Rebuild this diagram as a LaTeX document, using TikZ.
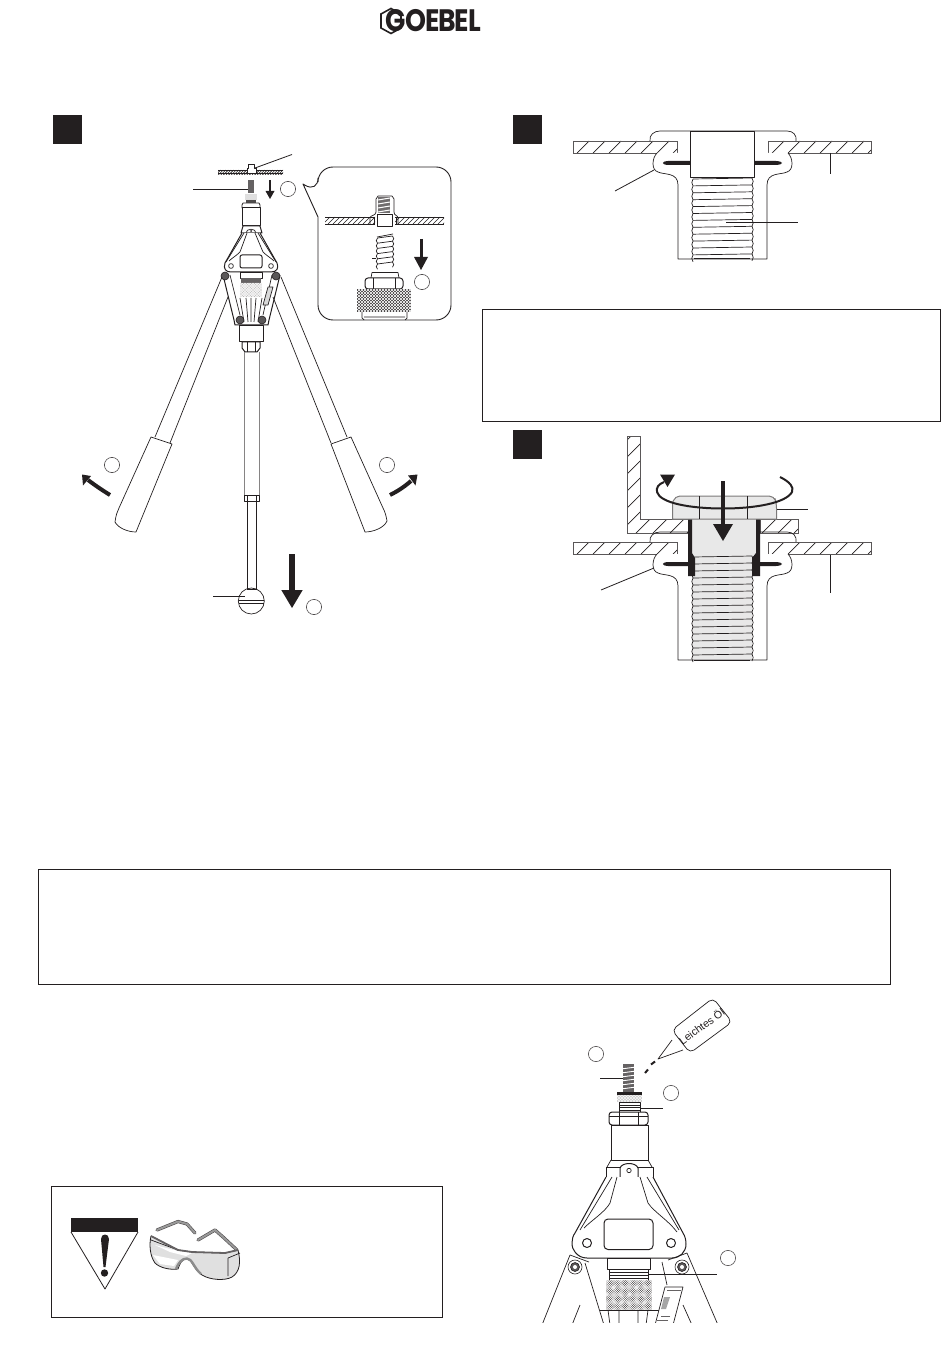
\documentclass[tikz,border=0pt]{standalone}
\usepackage{fontspec}
\setmainfont{Liberation Sans}
\newfontfamily\logofont{Poppins}
\definecolor{ink}{HTML}{231F20}
\colorlet{paleg}{black!9}
\newcommand{\slashes}[6][]{%
  \pgfmathsetmacro\hh{#5-#3}%
  \pgfmathtruncatemacro\nn{(#4-#2+\hh)/#6+1}%
  \foreach \k in {0,...,\nn}{%
    \pgfmathsetmacro\xa{#2-\hh+\k*#6}%
    \pgfmathsetmacro\xb{\xa+\hh}%
    \draw[#1] (\xa,#5) -- (\xb,#3);
  }}
\newcommand{\backslashes}[6][]{%
  \pgfmathsetmacro\hh{#5-#3}%
  \pgfmathtruncatemacro\nn{(#4-#2+\hh)/#6+1}%
  \foreach \k in {0,...,\nn}{%
    \pgfmathsetmacro\xa{#2-\hh+\k*#6}%
    \pgfmathsetmacro\xb{\xa+\hh}%
    \draw[#1] (\xa,#3) -- (\xb,#5);
  }}
\newcommand{\hatchrect}[5]{%
  \begin{scope}\clip (#1,#2) rectangle (#3,#4);
    \slashes[hatch]{#1}{#2}{#3}{#4}{#5}
  \end{scope}
  \draw[barline] (#1,#2) rectangle (#3,#4);}
\newcommand{\knurl}[5]{%
  \fill[ink!90] (#1,#2) rectangle (#3,#4);
  \begin{scope}\clip (#1,#2) rectangle (#3,#4);
    \slashes[white,line width=.3pt]{#1}{#2}{#3}{#4}{#5}
    \backslashes[white,line width=.3pt]{#1}{#2}{#3}{#4}{#5}
  \end{scope}}
% xl xr ytop n pitch slope
\newcommand{\threads}[6]{%
  \foreach \i in {0,...,#4}{%
    \pgfmathsetmacro\ya{#3+\i*#5}%
    \pgfmathsetmacro\yb{\ya+#5}%
    \pgfmathsetmacro\yc{\ya+0.3*#5}%
    \pgfmathsetmacro\yd{\ya+0.7*#5}%
    \pgfmathsetmacro\ye{\ya-#6}%
    \pgfmathsetmacro\yf{\yb-#6}%
    \pgfmathsetmacro\yg{\yc-#6}%
    \pgfmathsetmacro\yh{\yd-#6}%
    \draw[thinl] (#1,\ya) -- (#2,\ye);
    \draw[thinl] (#1,\ya) .. controls ({#1-1.6},\yc) and ({#1-1.6},\yd) .. (#1,\yb);
    \draw[thinl] (#2,\ye) .. controls ({#2+1.6},\yg) and ({#2+1.6},\yh) .. (#2,\yf);
  }}
% rivet body, shifted down by #1
\newcommand{\rivetbody}[1]{%
\begin{scope}[yshift=#1*-0.5pt]
  \draw[thinl] (650,141) .. controls (649,135) and (654,131) .. (660,131) -- (787,131)
     .. controls (793,131) and (797,135) .. (796,141);
  \draw[thinl,fill=white] (657,153) .. controls (652,158) and (651,170) .. (658,172)
     .. controls (664,175) and (678,172) .. (678,185) -- (678,259) -- (767,259) -- (767,185)
     .. controls (767,172) and (781,175) .. (787,172) .. controls (794,170) and (793,158) .. (788,153);
  \fill[ink] (690,161) -- (668,161) .. controls (661,161.5) and (661,164.5) .. (668,165) -- (690,165) -- cycle;
  \fill[ink] (754,161) -- (776,161) .. controls (784,161.5) and (784,164.5) .. (776,165) -- (754,165) -- cycle;
\end{scope}}
\begin{document}
\begin{tikzpicture}[x=0.5pt,y=-0.5pt,
  thinl/.style={line width=0.35pt,draw=ink,line join=round},
  medl/.style={line width=0.5pt,draw=ink,line join=round},
  hatch/.style={line width=0.35pt,draw=ink},
  barline/.style={line width=0.4pt,draw=ink!75},
  leader/.style={line width=0.4pt,draw=ink},
  marker/.style={circle,draw=ink!80,line width=0.3pt,minimum size=7.6pt,inner sep=0pt},
  stepsq/.style={fill=ink,minimum size=14.4pt,inner sep=0pt,anchor=north west},
  textbox/.style={draw=ink,line width=0.45pt,inner sep=0pt,anchor=north west},
  bolt/.style={fill=ink!75,draw=ink,line width=0.3pt},
  inkfill/.style={fill=ink}]
\useasboundingbox (0,0) rectangle (950,1369);

% ---------- logo
\node[inner sep=0pt,text=ink] (logo) at (433.5,21) {\logofont\bfseries\fontsize{15.5pt}{15.5pt}\selectfont\addfontfeatures{LetterSpace=-4}\scalebox{.86}[1]{GOEBEL}};
\draw[line width=0.8pt,draw=ink] (391,8.5) -- (401,14) -- (401,28) -- (391,33.5) -- (381,28) -- (381,14) -- cycle;

% ---------- step squares
\node[stepsq] (s1) at (53,115) {};
\node[stepsq] (s2) at (513,115) {};
\node[stepsq] (s3) at (513,430) {};

% ---------- text frames
\node[textbox,minimum width=229pt,minimum height=55.5pt] (box1) at (481.5,309.5) {};
\node[textbox,minimum width=426pt,minimum height=57.5pt] (box2) at (38,869) {};
\node[textbox,minimum width=195.5pt,minimum height=65.5pt] (box3) at (51,1186) {};

% ---------- tool, figure 1
% plate with rivet
\begin{scope}\clip (218,170) rectangle (283,175);
 \slashes[line width=.3pt,draw=ink]{218}{170}{283}{175}{2.6}
\end{scope}
\draw[medl] (218,170.5) -- (283,170.5) (218,174) -- (283,174);
\draw[thinl,fill=white] (247,173.5) -- (247,168) -- (248.5,168) -- (248.5,164) -- (254,164) -- (254,168) -- (256,168) -- (256,173.5) -- cycle;
\draw[leader] (255,168) -- (292,154.5);
% mandrel
\fill[ink!70] (248,180) rectangle (254,193);
\draw[leader] (193,189) -- (248,189);
\knurl{245}{194}{257}{200}{2}
\fill[ink!80] (246,200) rectangle (256,203);
\draw[thinl,fill=white] (242,205) -- (243,203) -- (259,203) -- (260,205) -- (260,208) -- (242,208) -- cycle;
\draw[medl,fill=white] (242.5,208) rectangle (260,226);
\draw[medl,fill=white] (243,226) -- (241,233) -- (262,233) -- (260,226) -- cycle;
\draw[thinl] (246,233) .. controls (246,228) and (256,228) .. (256,233);
\fill[ink] (251,231) circle (1);
% small arrow
\draw[line width=1.3pt,draw=ink] (270,180) -- (270,192);
\fill[ink] (265.5,191) -- (274.5,191) -- (270,199) -- cycle;
\node[marker] (c1) at (288,189) {};
% head plate
\draw[medl,fill=white] (242,233) -- (225,263) .. controls (223,269) and (226,272) .. (231,272) -- (271,272) .. controls (277,272) and (279,268) .. (277,263) -- (260,233);
\draw[thinl] (247,233) -- (240,252) .. controls (236,256) and (232,258) .. (229,261);
\draw[thinl] (255,233) -- (263,252) .. controls (267,256) and (271,258) .. (274,261);
\draw[thinl] (244,233) -- (226,262) (258,233) -- (276,262);
\draw[medl,rounded corners=1pt] (240,255) rectangle (262,268);
\draw[thinl] (231,266) circle (2.4) (271,266) circle (2.4);
% lower frame
\draw[medl] (223,275) -- (234,320) -- (235,325) -- (268,325) -- (269,320) -- (280,275);
\draw[thinl] (230,275) -- (240,315) (272,275) -- (263,315);
\draw[thinl] (240,298) -- (244,322) (246,298) -- (248,322) (251,298) -- (251,322) (256,298) -- (254,322) (262,298) -- (258,322);
\draw[thinl,fill=white] (240,272) rectangle (262,278);
\fill[ink!70] (241,278) rectangle (261,283);
\knurl{240}{283}{262}{297}{1.6}
\draw[thinl,fill=black!15] (268,287) -- (273,287) -- (268,305) -- (263,305) -- cycle;
\draw[bolt] (225,276) circle (4) (276,276) circle (4) (240,320) circle (4) (262,320) circle (4);
% collars and tube
\draw[medl,fill=white] (239,326) rectangle (263,342);
\draw[medl,fill=white] (242,342) -- (260,342) -- (260,348) -- (257,352) -- (245,352) -- (242,348) -- cycle;
\draw[thinl] (247,342) -- (247,352) (255,342) -- (255,352);
\draw[line width=0.4pt,draw=ink!55] (244,352) -- (244,495) (259,352) -- (259,495);
\draw[thinl] (244,495) rectangle (259,501);
\draw[thinl] (247,495) -- (247,501) (256,495) -- (256,501);
\draw[medl] (247.5,501) -- (247.5,590) (256,501) -- (256,590);
\draw[medl] (247.5,589.5) -- (256,589.5);
\draw[thinl] (251.3,601) circle (13);
\draw[medl] (238.5,600) -- (264,600) (238.5,603) -- (264,603);
\draw[leader] (213,596) -- (245,596);
\draw[line width=3.4pt,draw=ink] (292,554) -- (292,591);
\fill[ink] (281.3,590) -- (302.7,590) -- (292,608) -- cycle;
\node[marker] (c2) at (314,607) {};
% handles
\draw[thinl] (222,277) -- (155,437) (228,297) -- (170,443);
\draw[thinl] (281,277) -- (347,437) (273,297) -- (331,443);
\draw[thinl,fill=white] (151,437) -- (172,444) -- (136,532) .. controls (128,532) and (118,528) .. (115,522) .. controls (116,515) and (117,512) .. (119,508) -- cycle;
\draw[thinl,fill=white] (351,437) -- (331,444) -- (365,532) .. controls (373,532) and (384,528) .. (387,521) .. controls (386,515) and (385,512) .. (383,508) -- cycle;
\node[marker] (c3) at (112,465) {};
\node[marker] (c4) at (387,465) {};
\draw[line width=2pt,draw=ink] (110,495) .. controls (102,490) and (96,486) .. (88,480);
\fill[ink] (82,474.5) -- (91,476) -- (83,485.5) -- cycle;
\draw[line width=2pt,draw=ink] (390,495) .. controls (398,491) and (404,487) .. (411,481);
\fill[ink] (417.5,474.5) -- (408,475.5) -- (415.5,485.5) -- cycle;

% ---------- callout
\draw[thinl,fill=white,line width=.45pt,rounded corners=7.5pt] (318,193) [sharp corners] -- (303,184) -- (318,217) [rounded corners=7.5pt] -- (318,320) -- (451,320) -- (451,167) -- (318,167) -- cycle;
\begin{scope}\clip (325,217) rectangle (375,224);
 \slashes[line width=.3pt,draw=ink]{325}{217}{375}{224}{5}
\end{scope}
\begin{scope}\clip (395,217) rectangle (444,224);
 \slashes[line width=.3pt,draw=ink]{395}{217}{444}{224}{5}
\end{scope}
\draw[thinl] (325,217) -- (375,217) (395,217) -- (444,217);
\draw[medl] (325,224.5) -- (375,224.5) (395,224.5) -- (444,224.5);
\fill[ink!65] (378,197) rectangle (390,213);
\foreach \yy in {199,203,207,211}{\draw[white,line width=.5pt] (378,\yy+1) -- (390,\yy-1);}
\draw[thinl] (370,224) -- (370,218) .. controls (370,215) and (376,216) .. (376,212) -- (376,199) -- (378,196) -- (392,196) -- (394,199) -- (394,212) .. controls (394,216) and (398,215) .. (398,218) -- (398,224);
\draw[thinl,fill=white] (377,214) rectangle (392,226);
\draw[thinl] (374,224) -- (374,218) (396,224) -- (396,218);
\threads{377.5}{392.5}{238}{5}{5.2}{2}
\draw[thinl] (377,237) -- (393,234);
\draw[leader] (372,258) -- (376,258);
\draw[line width=1.5pt,draw=ink] (421,239) -- (421,258);
\fill[ink] (414,257) -- (428,257) -- (421,270) -- cycle;
\node[marker] (c5) at (422,282) {};
\draw[thinl,fill=white] (371,278) -- (372,272.5) -- (398,272.5) -- (399,278);
\draw[medl,fill=white,rounded corners=1.5pt] (365,278) rectangle (403,289);
\draw[thinl] (373,278) -- (373,289) (395,278) -- (395,289);
\knurl{357}{289}{411}{312}{3}
\draw[thinl] (362,312) -- (362,318) -- (364,320) (407,312) -- (407,318) -- (405,320) (364,317) -- (405,317);

% ---------- figure 2
\hatchrect{573}{141}{677}{153}{16}
\hatchrect{768}{141}{871}{153}{16}
\rivetbody{0}
\draw[thinl,fill=white] (690,131) rectangle (754,177);
\threads{693}{752}{179}{11}{6.9}{1}
\draw[medl] (694,258.5) -- (750,258.5);
\draw[leader] (615,191) -- (654,170);
\draw[leader] (830,153) -- (830,174);
\draw[leader] (726,222) -- (798,222);

% ---------- figure 3
\begin{scope}
 \clip (627,436) -- (640,436) -- (640,519) -- (688,519) -- (688,533) -- (627,533) -- cycle;
 \slashes[hatch]{620}{430}{690}{535}{17}
\end{scope}
\draw[barline] (627,436) -- (640,436) -- (640,519) -- (688,519) -- (688,533) -- (627,533) -- cycle;
\hatchrect{760}{519}{798}{533}{16}
\hatchrect{573}{542}{677}{554}{16}
\hatchrect{768}{542}{871}{554}{16}
\rivetbody{401}
\fill[paleg] (692,519) rectangle (756,560);
\fill[paleg] (693,556) rectangle (752,659);
\threads{693}{752}{557}{14}{7.0}{1}
\draw[medl] (694,660) -- (750,660);
\fill[ink] (688,519) -- (692,519) -- (692,553) -- (695,558) -- (695,576) -- (688,576) -- cycle;
\fill[ink] (760,519) -- (756,519) -- (756,553) -- (752,558) -- (752,576) -- (760,576) -- cycle;
\draw[line width=.5pt,draw=ink!60,fill=paleg,rounded corners=2.5pt] (672.5,519) [sharp corners] -- (672.5,503) [rounded corners=2.5pt] -- (675,496) -- (774,496) -- (776.5,503) [sharp corners] -- (776.5,519) -- cycle;
\draw[thinl] (699,496) -- (699,519) (747,496) -- (747,519);
\draw[leader] (777,509) -- (808,509);
\draw[leader] (654,568) -- (601,590);
\draw[leader] (830,555) -- (830,593);
\draw[line width=1pt,draw=ink] (780,477) .. controls (790,482) and (794,487) .. (792,492) .. controls (786,503) and (755,508.5) .. (723,508.5) .. controls (690,508.5) and (660,503) .. (657,492) .. controls (656,487) and (659,484) .. (664,482);
\fill[ink] (660,474.5) -- (675,474.5) -- (667.5,487) -- cycle;
\draw[line width=1.7pt,draw=ink] (723,481) -- (723,526);
\fill[ink] (713,524) -- (733,524) -- (723,541) -- cycle;

% ---------- warning sign and goggles
\fill[ink] (71,1218) rectangle (138,1232);
\draw[thinl,line width=.4pt] (71,1232) -- (105,1289) -- (138,1232);
\fill[ink] (101,1239) .. controls (101,1233) and (109,1233) .. (109,1239) -- (105.5,1267) -- (103.5,1267) -- cycle;
\fill[ink] (104.5,1273) circle (3.7);
% arms
\draw[line width=1.6pt,draw=ink!80,line join=round,line cap=round] (157,1230) -- (178,1221.5) -- (187,1224) -- (195,1233);
\draw[line width=1pt,draw=black!40,line join=round,line cap=round] (157,1230) -- (178,1221.5) -- (187,1224) -- (195,1233);
\draw[line width=1.6pt,draw=ink!80,line join=round,line cap=round] (198,1240) -- (215,1230) -- (223,1237) -- (237,1250);
\draw[line width=1pt,draw=black!40,line join=round,line cap=round] (198,1240) -- (215,1230) -- (223,1237) -- (237,1250);
% lens
\draw[thinl,fill=black!12,line width=.4pt] (151,1236) .. controls (149,1245) and (150,1256) .. (155,1263) .. controls (160,1268) and (170,1270) .. (178,1269) .. controls (180,1263) and (182,1259) .. (187,1259) .. controls (192,1259) and (193,1269) .. (202,1275) .. controls (210,1280) and (225,1281) .. (232,1277) .. controls (240,1272) and (241,1262) .. (238,1250) -- (225,1253) -- (192,1252) -- (178,1250) -- cycle;
\fill[white] (155,1245) -- (178,1251) -- (192,1253) -- (186,1256) -- (170,1252) -- cycle;
\fill[white] (153,1255) -- (178,1260) -- (174,1266) -- (160,1264) -- cycle;
\draw[line width=1.2pt,draw=black!45,line join=round] (176,1269) .. controls (179,1262) and (182,1258.5) .. (187,1258.5) .. controls (192,1258.5) and (194,1268) .. (201,1274);
\draw[thinl] (151,1240) -- (178,1250) (228,1258) -- (228,1276) (228,1258) -- (240,1253);
\draw[line width=.9pt,draw=ink!70] (151,1236) -- (178,1250);
\draw[line width=.9pt,draw=ink!70] (178,1250) -- (192,1252) -- (225,1253) -- (238,1250);

% ---------- tool, bottom right
\begin{scope}
\clip (520,985) rectangle (760,1322.5);
% bottle
\draw[thinl,fill=white,rounded corners=2.5pt] (672,1030) -- (713,998) -- (732,1022) -- (690,1053) -- cycle;
\draw[thinl] (672,1040) -- (658,1059) -- (683,1050);
\node[inner sep=0pt,rotate=36,text=ink,font=\fontsize{5.3pt}{6pt}\selectfont] (oil) at (701.5,1026) {Leichtes Öl};
\draw[line width=1pt,draw=ink] (655,1061.5) -- (651,1064.5);
\draw[line width=1pt,draw=ink] (648,1069.5) -- (645,1073);
\node[marker] (c6) at (596,1054) {};
\node[marker] (c7) at (671,1093) {};
\node[marker] (c8) at (728,1258) {};
% stud
\fill[ink!70] (623,1064) rectangle (634,1092);
\foreach \yy in {1068,1072,1076,1080,1084,1088}{\draw[white,line width=.45pt] (623,\yy+.7) -- (634,\yy-.7);}
\draw[leader] (600,1078) -- (623,1078);
\knurl{617}{1094}{642}{1102}{1.5}
\fill[ink] (617,1092) rectangle (642,1094.5);
\draw[thinl,fill=white] (619,1102) rectangle (640,1112);
\draw[thinl] (619,1105) -- (640,1105) (619,1107.5) -- (640,1107.5) (619,1110) -- (640,1110);
\draw[leader] (640,1108) -- (663,1108);
\draw[medl,fill=white,rounded corners=1.5pt] (609,1112) rectangle (648,1125);
\draw[thinl] (619,1112) -- (619,1125) (638,1112) -- (638,1125) (609,1116) -- (648,1116);
\draw[medl,fill=white] (611,1125) rectangle (648,1160);
\draw[thinl] (611,1160) -- (607,1167) (648,1160) -- (652,1167);
\draw[medl,fill=white] (606,1167) rectangle (653,1177);
\draw[medl,fill=white] (620,1177) -- (620,1168) .. controls (622,1162) and (636,1162) .. (638,1168) -- (638,1177);
\draw[thinl] (629,1170.5) circle (2.2);
% plate
\draw[medl,fill=white] (606,1177) -- (575,1233) .. controls (571,1238) and (571,1248) .. (575,1252) .. controls (578,1256) and (582,1258) .. (587,1258) -- (672,1258) .. controls (680,1258) and (686,1252) .. (686,1244) .. controls (686,1240) and (685,1236) .. (683,1233) -- (653,1177);
\draw[thinl] (612,1177) -- (580,1230);
\draw[thinl] (617,1177) -- (610,1203) .. controls (605,1212) and (592,1220) .. (584,1228);
\draw[thinl] (647,1177) -- (679,1230);
\draw[thinl] (640,1177) -- (648,1203) .. controls (654,1212) and (668,1220) .. (677,1232);
\draw[medl,rounded corners=2pt] (604,1219) rectangle (653,1249.5);
\draw[medl] (587,1243) circle (4.5) (671,1243) circle (4.5);
% below plate
\draw[medl,fill=white] (607,1258) rectangle (650,1269);
\draw[thinl] (609,1269) rectangle (648,1280);
\draw[thinl] (609,1272) -- (648,1272) (609,1275) -- (648,1275) (609,1278) -- (648,1278);
\knurl{606}{1280}{652}{1310}{2.3}
\draw[leader] (648,1274) -- (717,1274);
\draw[thinl] (600,1310) -- (660,1310);
\draw[thinl] (608,1310) -- (610,1325) (619,1310) -- (619,1325) (638,1310) -- (638,1325) (648,1310) -- (646,1325);
% frame levers
\draw[thinl] (570,1255) -- (542,1325);
\draw[thinl] (570,1255) -- (589,1262);
\draw[thinl] (585,1263) -- (604,1325);
\draw[thinl] (580,1305) -- (572,1325);
\draw[thinl] (687,1253) -- (668,1260);
\draw[thinl] (687,1253) -- (718,1325);
\draw[thinl] (662,1262) -- (667,1285);
\draw[thinl] (683,1305) -- (692,1325);
\draw[thinl,fill=white] (665,1287) -- (683,1287) -- (673,1325) -- (655,1325) -- cycle;
\fill[black!35] (664,1297) -- (670,1297) -- (666,1309) -- (661,1309) -- cycle;
\draw[line width=.5pt,draw=ink!70] (667,1290) -- (681,1290) (670,1316) -- (661,1316) (668,1320) -- (657,1320);
\draw[bolt,fill=white] (575,1267) circle (7) (682,1267) circle (7);
\draw[bolt] (575,1267) circle (4.5) (682,1267) circle (4.5);
\fill[white] (575,1267) circle (2) (682,1267) circle (2);
\end{scope}
\end{tikzpicture}
\end{document}
